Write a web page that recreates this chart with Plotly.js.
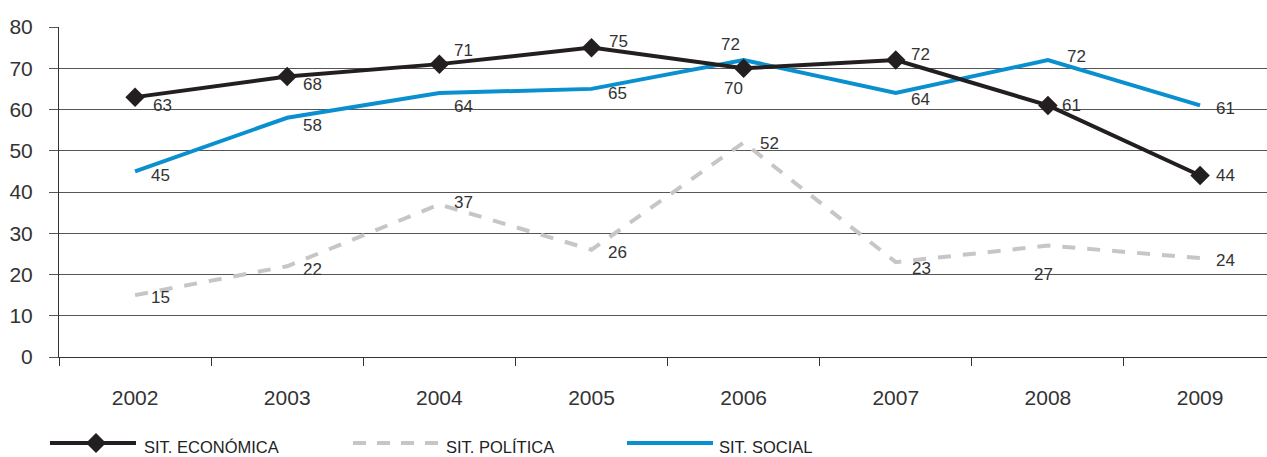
<!DOCTYPE html>
<html>
<head>
<meta charset="utf-8">
<script src="https://cdn.plot.ly/plotly-3.0.1.min.js"></script>
<style>html,body{margin:0;padding:0;background:#fff;}#chart{width:1267px;height:457px;}</style>
</head>
<body>
<div id="chart"></div>
<script>
// ---- data ----
const years = ['2002','2003','2004','2005','2006','2007','2008','2009'];
const economica = [63, 68, 71, 75, 70, 72, 61, 44];
const politica  = [15, 22, 37, 26, 52, 23, 27, 24];
const social    = [45, 58, 64, 65, 72, 64, 72, 61];
const seriesNames = ['SIT. ECONÓMICA', 'SIT. POLÍTICA', 'SIT. SOCIAL'];

// label offsets (px) relative to each point: [dx, dy] (dy positive = down)
const econOffsets = [[27,8],[25,8],[24,-14],[27,-6],[-10,20],[25,-6],[24,0],[25,0]];
const poliOffsets = [[25,2],[25,3],[24,-2],[26,3],[26,1],[26,6],[-4,29],[25,2]];
const socOffsets  = [[25,4],[25,8],[24,13],[26,5],[-13,-16],[25,6],[29,-4],[25,3]];

const COL_ECON = '#231f20', COL_POLI = '#c6c6c6', COL_SOC = '#0a90cf';
const FONT = 'Liberation Sans, Arial, sans-serif';
const W = 1267, H = 457, ML = 59, MR = 0, MT = 27, MB = 100;
const PW = W - ML - MR, PH = H - MT - MB;
const px = x => (x - ML) / PW;
const py = y => (H - MB - y) / PH;

const traces = [
  {x: years, y: politica, type: 'scatter', mode: 'lines', name: seriesNames[1],
   line: {color: COL_POLI, width: 4, dash: '13px,12px'}, hoverinfo: 'skip'},
  {x: years, y: social, type: 'scatter', mode: 'lines', name: seriesNames[2],
   line: {color: COL_SOC, width: 4}, hoverinfo: 'skip'},
  {x: years, y: economica, type: 'scatter', mode: 'lines+markers', name: seriesNames[0],
   line: {color: COL_ECON, width: 4}, marker: {symbol: 'diamond', size: 15, color: COL_ECON},
   hoverinfo: 'skip'}
];

const annotations = [];
function addLabels(vals, offs) {
  vals.forEach((v, i) => {
    // category axis: annotation x given as the category's serial index
    annotations.push({x: years.indexOf(years[i]), y: v, xref: 'x', yref: 'y', text: String(v), showarrow: false,
      xanchor: 'center', yanchor: 'middle', xshift: offs[i][0], yshift: -offs[i][1],
      font: {family: FONT, size: 17, color: '#333'}});
  });
}
addLabels(economica, econOffsets);
addLabels(politica, poliOffsets);
addLabels(social, socOffsets);

// custom legend
const LY = 443;
const legendItems = [
  {x0: 50, x1: 136, tx: 142, color: COL_ECON, dash: 'solid', diamond: 96, name: seriesNames[0]},
  {x0: 353, x1: 440, tx: 444, color: COL_POLI, dash: '13px,11px', name: seriesNames[1]},
  {x0: 627, x1: 713, tx: 717, color: COL_SOC, dash: 'solid', name: seriesNames[2]}
];
const shapes = [];
legendItems.forEach(it => {
  shapes.push({type: 'line', xref: 'paper', yref: 'paper', x0: px(it.x0), x1: px(it.x1),
    y0: py(LY), y1: py(LY), line: {color: it.color, width: 4, dash: it.dash}});
  if (it.diamond) {
    const c = it.diamond, r = 10;
    shapes.push({type: 'path', xref: 'paper', yref: 'paper',
      path: `M ${px(c - r)} ${py(LY)} L ${px(c)} ${py(LY - r)} L ${px(c + r)} ${py(LY)} L ${px(c)} ${py(LY + r)} Z`,
      fillcolor: it.color, line: {width: 0}});
  }
  annotations.push({xref: 'paper', yref: 'paper', x: px(it.tx), y: py(LY + 4), text: it.name,
    showarrow: false, xanchor: 'left', yanchor: 'middle',
    font: {family: FONT, size: 16.5, color: '#222'}});
});

const layout = {
  width: W, height: H,
  margin: {l: ML, r: MR, t: MT, b: MB, pad: 0},
  paper_bgcolor: '#fff', plot_bgcolor: '#fff',
  showlegend: false,
  font: {family: FONT, size: 20, color: '#333'},
  xaxis: {type: 'category', range: [-0.5, 7.44], showgrid: false, zeroline: false,
    showline: true, linecolor: '#333', linewidth: 1,
    ticks: 'outside', tickson: 'boundaries', ticklen: 8, tickcolor: '#333', tickwidth: 1,
    ticklabelstandoff: 22, tickfont: {size: 21, color: '#333'}, fixedrange: true},
  yaxis: {range: [0, 80], dtick: 10, tick0: 0, showgrid: true, gridcolor: '#555', gridwidth: 1,
    zeroline: false, showline: true, linecolor: '#333', linewidth: 1,
    ticks: 'outside', ticklen: 9, tickcolor: '#555', tickwidth: 1,
    ticklabelstandoff: 12, tickfont: {size: 21, color: '#333'}, fixedrange: true},
  annotations: annotations,
  shapes: shapes
};

Plotly.newPlot('chart', traces, layout, {displayModeBar: false, staticPlot: true});
</script>
</body>
</html>
